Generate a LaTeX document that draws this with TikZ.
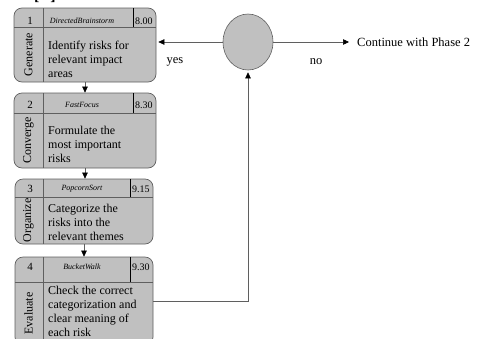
\documentclass[tikz,border=0pt]{standalone}
\usepackage{fontspec}
\setmainfont{Liberation Serif}
\usetikzlibrary{shapes.geometric,arrows.meta}
\definecolor{boxgray}{RGB}{192,192,192}
\definecolor{linegray}{RGB}{95,95,95}
\tikzset{
  phase/.style={draw=linegray, fill=boxgray, rounded corners=8pt, inner sep=0pt, line width=0.7pt},
  divider/.style={draw=linegray, line width=0.6pt},
  decision/.style={ellipse, draw=linegray, fill=boxgray, inner sep=0pt, line width=0.6pt},
  flow/.style={draw=linegray, line width=0.6pt, -{Triangle[length=6pt,width=5.5pt,color=black]}},
  numtxt/.style={font=\fontsize{11}{11}\selectfont, inner sep=0pt},
  tooltxt/.style={font=\fontsize{8}{8}\selectfont\itshape, inner sep=0pt},
  timetxt/.style={font=\fontsize{10}{10}\selectfont, inner sep=0pt, anchor=west},
  steptxt/.style={font=\fontsize{12}{12}\selectfont, inner sep=0pt, rotate=90},
  desctxt/.style={font=\fontsize{12}{14}\selectfont, inner sep=0pt, anchor=west, align=left},
  plaintxt/.style={font=\fontsize{12.5}{12.5}\selectfont, inner sep=0pt}
}
\begin{document}
\begin{tikzpicture}[x=1pt,y=-1pt]
\useasboundingbox (0,0) rectangle (481,338);
% cut-off caption brackets at the top
\node[font=\fontsize{16}{16}\selectfont\bfseries, anchor=base, inner sep=0pt] (brk) at (45,0.5) {[\hspace{11pt}]};
% the four phase boxes
\foreach \i/\L/\R/\T/\H/\B/\D/\hy/\ty/\tool/\time/\step/\desc in {
  1/14/156/8/27/82/133/21/59/DirectedBrainstorm/8.00/Generate/{Identify risks for\\relevant impact\\areas},
  2/14/156/93/113/168/133/105/144/FastFocus/8.30/Converge/{Formulate the\\most important\\risks},
  3/15/153/179/197/244/130/189/222/PopcornSort/9.15/Organize/{Categorize the\\risks into the\\relevant themes},
  4/15/153/257/282/345/130/267/311/BucketWalk/9.30/Evaluate/{Check the correct\\categorization and\\clear meaning of\\each risk}}{
    \pgfmathsetmacro\w{\R-\L}
    \pgfmathsetmacro\h{\B-\T}
    \node[phase, minimum width=\w pt, minimum height=\h pt] (b\i) at ({(\L+\R)/2},{(\T+\B)/2}) {};
    \draw[divider] (\L,\H) -- (\R,\H);
    \draw[divider] (43,\T) -- (43,\B);
    \draw[divider, draw=black] (\D,\T) -- (\D,\H);
    \node[numtxt] (n\i) at (30,\hy) {\i};
    \node[tooltxt] (t\i) at (82,\hy) {\tool};
    \node[timetxt] (c\i) at ({\D+2},\hy) {\time};
    \node[steptxt] (s\i) at (28.5,{(\H+\B)/2}) {\step};
    \node[desctxt] (d\i) at (48,\ty) {\desc};
}
\draw[flow] (b1.south) -- (b2.north);
\draw[flow] (b2.south) -- (b2.south |- b3.north);
\draw[flow] (b3.south) -- (b4.north);
% decision
\node[decision, minimum width=50pt, minimum height=56pt] (dec) at (248,42) {};
\node[plaintxt, anchor=west] (cont) at (357,42) {Continue with Phase 2};
\node[plaintxt] (yes) at (175,62) {yes};
\node[plaintxt] (no) at (316,62) {no};
\draw[flow, shorten >=2pt] (dec.west) -- (b1.east |- dec.west);
\draw[flow, shorten >=8pt] (dec.east) -- (cont.west);
\draw[flow, shorten >=2pt] (b4.east) -| (dec.south);
\end{tikzpicture}
\end{document}
